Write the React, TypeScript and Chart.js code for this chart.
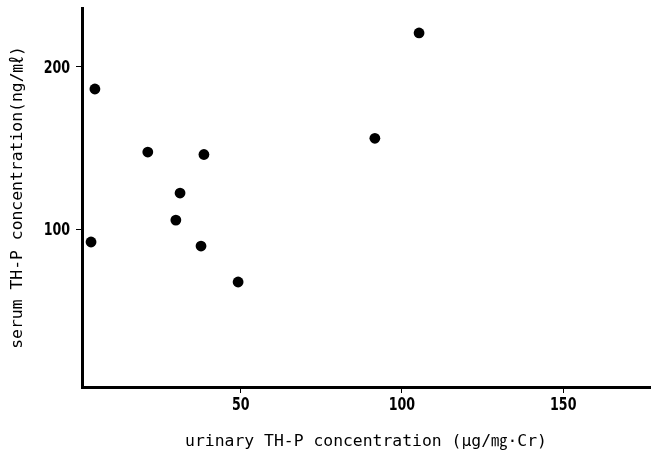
import React, { useEffect, useRef } from "react";
import { Chart, registerables } from "chart.js";

Chart.register(...registerables);

const urinaryTHP = [4.8, 3.6, 21.2, 38.6, 31.2, 29.9, 37.7, 49.2, 91.6, 105.3];
const serumTHP = [186.4, 92, 147.5, 146, 122.2, 105.5, 89.5, 67.3, 156, 221];
const xTicks = [50, 100, 150];
const yTicks = [100, 200];
const xTitle = "urinary TH-P concentration (μg/㎎·Cr)";
const yTitle = "serum TH-P concentration(ng/㎖)";

const narrowTicks = {
  id: "narrowTicks",
  afterDraw(chart: any) {
    const ctx = chart.ctx;
    const xs = chart.scales.x;
    const ys = chart.scales.y;
    ctx.save();
    ctx.fillStyle = "#000";
    ctx.font = "bold 18px 'DejaVu Sans Condensed', 'DejaVu Sans', sans-serif";
    ctx.textBaseline = "middle";
    xs.ticks.forEach((t: any) => {
      const px = xs.getPixelForValue(t.value);
      ctx.save();
      ctx.translate(px, chart.chartArea.bottom + 18);
      ctx.scale(0.78, 1);
      ctx.textAlign = "center";
      ctx.fillText(String(t.value), 0, 0);
      ctx.restore();
    });
    ys.ticks.forEach((t: any) => {
      const py = ys.getPixelForValue(t.value);
      ctx.save();
      ctx.translate(chart.chartArea.left - 12, py + 1);
      ctx.scale(0.78, 1);
      ctx.textAlign = "right";
      ctx.fillText(String(t.value), 0, 0);
      ctx.restore();
    });
    ctx.restore();
  },
};

export default function App() {
  const ref = useRef<HTMLCanvasElement | null>(null);
  useEffect(() => {
    if (!ref.current) return;
    const points = urinaryTHP.map((x, i) => ({ x, y: serumTHP[i] }));
    const titleFont = { family: "'DejaVu Sans Mono', 'Noto Sans CJK JP', monospace", size: 16.4 };
    const chart = new Chart(ref.current, {
      type: "scatter",
      data: {
        datasets: [
          {
            data: points,
            backgroundColor: "#000",
            borderColor: "#000",
            borderWidth: 0,
            pointRadius: 5.4,
            pointHoverRadius: 5.4,
          },
        ],
      },
      plugins: [narrowTicks],
      options: {
        responsive: false,
        animation: false,
        layout: { padding: { top: 8, right: 8, left: 0, bottom: 0 } },
        plugins: { legend: { display: false }, tooltip: { enabled: false } },
        scales: {
          x: {
            type: "linear",
            min: 0.8,
            max: 176.9,
            afterBuildTicks: (s: any) => {
              s.ticks = xTicks.map((v) => ({ value: v }));
            },
            afterFit: (s: any) => {
              s.height = 67;
            },
            ticks: { display: false, autoSkip: false },
            grid: { display: true, drawOnChartArea: false, drawTicks: true, tickLength: 6, color: "#000", lineWidth: 1 },
            border: { display: true, color: "#000", width: 3 },
            title: { display: true, text: xTitle, color: "#000", font: titleFont, padding: { top: 0, bottom: 2 } },
          },
          y: {
            type: "linear",
            min: 2.5,
            max: 236.4,
            afterBuildTicks: (s: any) => {
              s.ticks = yTicks.map((v) => ({ value: v }));
            },
            afterFit: (s: any) => {
              s.width = 82;
            },
            ticks: { display: false, autoSkip: false },
            grid: { display: true, drawOnChartArea: false, drawTicks: true, tickLength: 6, color: "#000", lineWidth: 1 },
            border: { display: true, color: "#000", width: 3 },
            title: { display: true, text: yTitle, color: "#000", font: titleFont, padding: { top: 8, bottom: 0 } },
          },
        },
      },
    });
    return () => chart.destroy();
  }, []);
  return (
    <div style={{ position: "fixed", left: 0, top: 0, width: 658, height: 454, background: "#fff" }}>
      <canvas ref={ref} width={658} height={454} style={{ width: 658, height: 454, display: "block" }} />
    </div>
  );
}
